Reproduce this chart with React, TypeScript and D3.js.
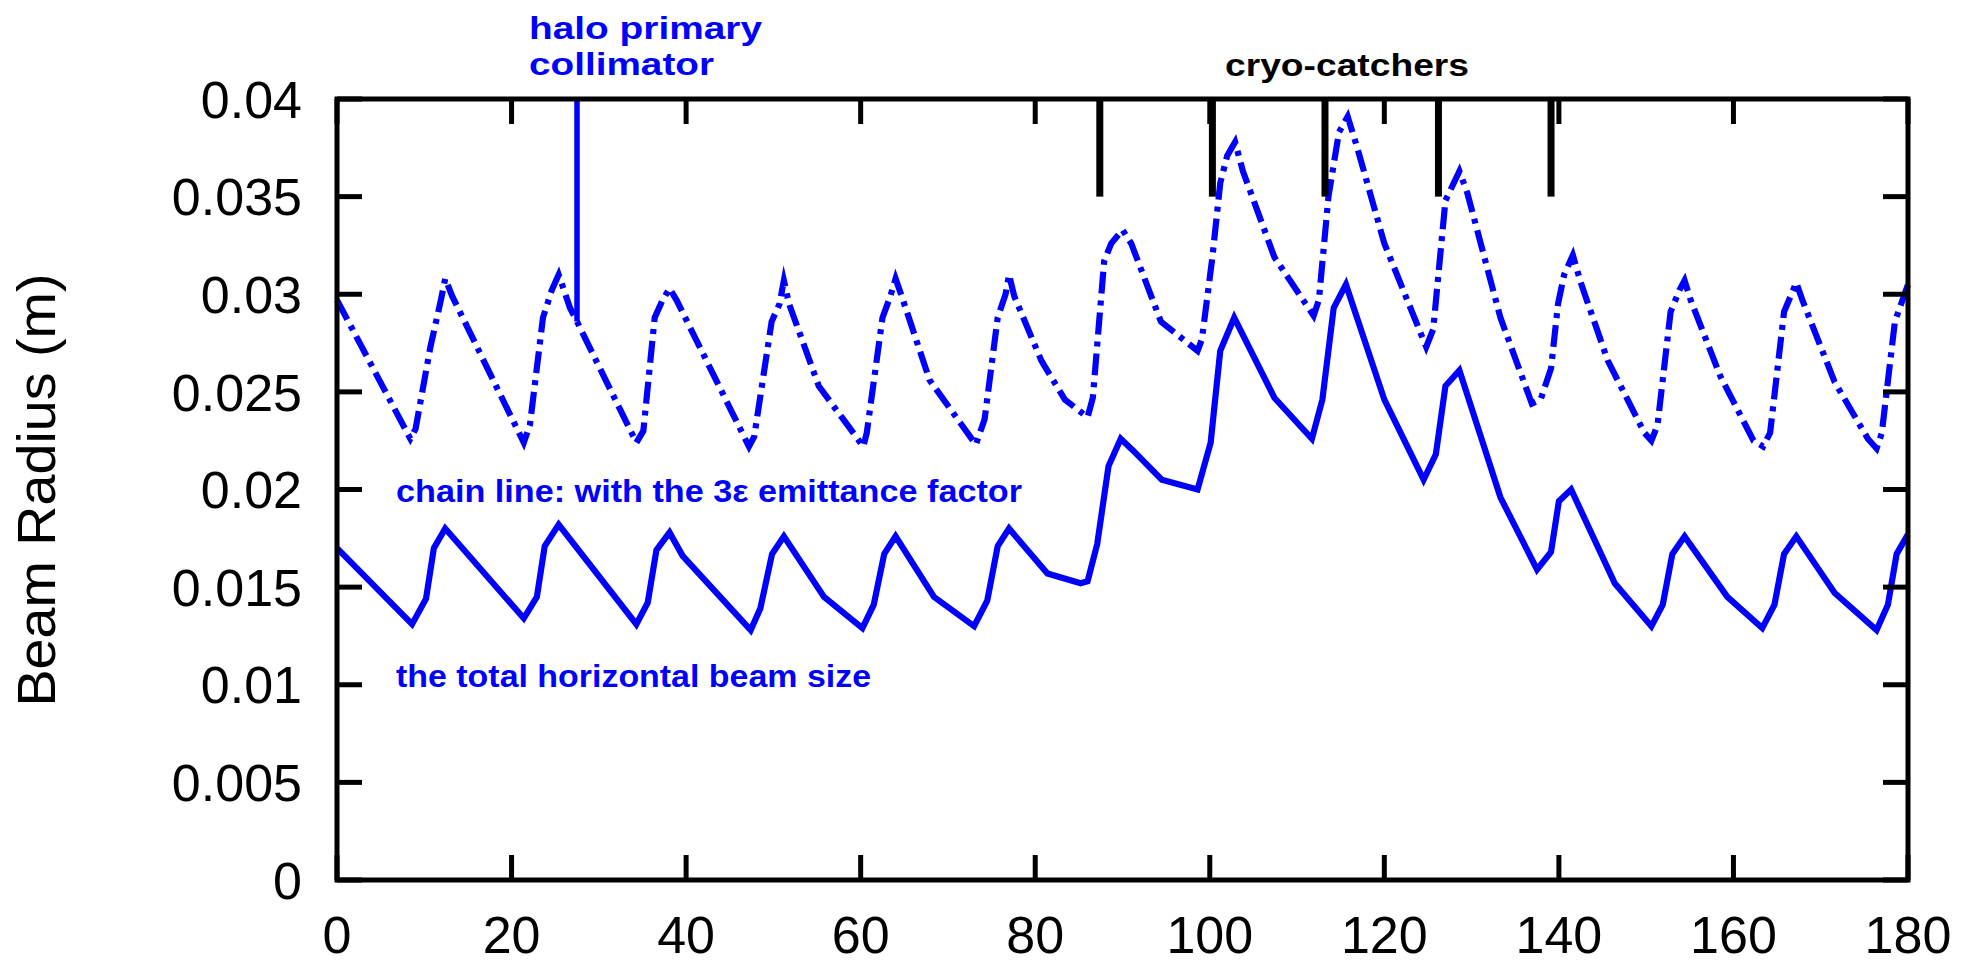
import React from 'react';
import * as d3 from 'd3';

// ---- axis ticks ----
const xTickValues = [0, 20, 40, 60, 80, 100, 120, 140, 160, 180];
const xTickLabels = ['0', '20', '40', '60', '80', '100', '120', '140', '160', '180'];
const yTickValues = [0, 0.005, 0.01, 0.015, 0.02, 0.025, 0.03, 0.035, 0.04];
const yTickLabels = ['0', '0.005', '0.01', '0.015', '0.02', '0.025', '0.03', '0.035', '0.04'];

// ---- total horizontal beam size (solid) : [s, radius] ----
const totalBeamSize: [number, number][] = [
  [0, 0.0170], [8.6, 0.0131], [10.2, 0.0144], [11.1, 0.0170], [12.4, 0.0180],
  [21.4, 0.0134], [22.9, 0.0145], [23.8, 0.0171], [25.4, 0.0182],
  [34.3, 0.0131], [35.6, 0.0142], [36.6, 0.0169], [38.1, 0.0178], [39.6, 0.0166],
  [47.4, 0.0128], [48.5, 0.0139], [49.85, 0.0167], [51.2, 0.0176], [55.8, 0.0145],
  [60.2, 0.0129], [61.5, 0.0141], [62.7, 0.0167], [64.0, 0.0176], [68.4, 0.0145],
  [73.0, 0.0130], [74.5, 0.0143], [75.7, 0.0171], [77.0, 0.0180], [81.4, 0.0157],
  [85.2, 0.0152], [86.0, 0.0153], [87.1, 0.0172], [88.4, 0.0212], [89.8, 0.0226],
  [91.2, 0.0220], [94.5, 0.0205], [98.6, 0.0200],
  [100.1, 0.0224], [101.2, 0.0271], [102.8, 0.0288], [107.4, 0.0247],
  [111.7, 0.0226], [112.9, 0.0246], [114.2, 0.0293], [115.6, 0.0305], [120.0, 0.0246],
  [124.5, 0.0205], [125.9, 0.0218], [127.0, 0.0253], [128.6, 0.0261], [133.3, 0.0196],
  [137.5, 0.0159], [139.1, 0.0168], [140.0, 0.0194], [141.4, 0.0200], [146.4, 0.0152],
  [150.6, 0.0130], [151.9, 0.0141], [153.0, 0.0167], [154.4, 0.0176], [159.3, 0.0145],
  [163.3, 0.0129], [164.7, 0.0141], [165.8, 0.0167], [167.2, 0.0176], [171.6, 0.0147],
  [176.4, 0.0128], [177.7, 0.0141], [178.7, 0.0167], [180.0, 0.0177],
];

// ---- chain line: with the 3ε emittance factor (dash-dot) ----
const chainBeamSize: [number, number][] = [
  [0, 0.0297], [8.4, 0.0226], [9.0, 0.0231], [10.7, 0.0273], [11.9, 0.0297], [12.4, 0.0308], [13.2, 0.0299],
  [21.4, 0.0224], [22.1, 0.0233], [23.6, 0.0288], [24.6, 0.0302], [25.4, 0.0310], [26.7, 0.0293], [27.5, 0.0286],
  [34.3, 0.0224], [35.1, 0.0230], [36.4, 0.0288], [37.3, 0.0297], [38.1, 0.0303], [38.9, 0.0297],
  [47.2, 0.0222], [47.8, 0.0227], [49.8, 0.0286], [50.7, 0.0295], [51.2, 0.0307], [51.8, 0.0295], [55.2, 0.0253],
  [60.3, 0.0222], [60.7, 0.0229], [62.5, 0.0288], [63.4, 0.0299], [64.0, 0.0308], [64.7, 0.0299], [67.9, 0.0256],
  [73.2, 0.0223], [74.2, 0.0236], [75.7, 0.0288], [76.6, 0.0300], [77.0, 0.0310], [77.6, 0.0299], [80.7, 0.0266],
  [83.4, 0.0246], [86.0, 0.0237], [86.6, 0.0247], [87.9, 0.0317], [88.7, 0.0326], [90.0, 0.0333], [91.0, 0.0326],
  [94.4, 0.0286], [98.6, 0.0271], [99.1, 0.0277], [100.3, 0.0319], [101.2, 0.0357], [102.0, 0.0371],
  [102.9, 0.0378], [103.8, 0.0363], [107.4, 0.0319], [111.9, 0.0289], [112.5, 0.0297], [113.6, 0.0350],
  [114.8, 0.0383], [115.8, 0.0391], [116.9, 0.0375], [120.0, 0.0326], [124.8, 0.0273], [125.6, 0.0282],
  [127.0, 0.0348], [128.6, 0.0363], [129.5, 0.0352], [133.3, 0.0288], [136.9, 0.0244], [137.9, 0.0246],
  [139.1, 0.0262], [139.9, 0.0295], [140.6, 0.0310], [141.6, 0.0320], [142.5, 0.0306], [145.6, 0.0266],
  [149.8, 0.0229], [150.6, 0.0225], [151.3, 0.0233], [152.8, 0.0291], [153.8, 0.0302], [154.4, 0.0307],
  [155.1, 0.0297], [158.5, 0.0258], [162.3, 0.0225], [163.4, 0.0222], [164.2, 0.0229], [165.8, 0.0291],
  [167.2, 0.0306], [167.9, 0.0297], [171.6, 0.0255], [175.4, 0.0226], [176.4, 0.0221], [177.0, 0.0229],
  [178.5, 0.0286], [180.0, 0.0305],
];

// ---- markers ----
const cryoCatcherPositions = [87.4, 100.3, 113.2, 126.2, 139.1];
const cryoCatcherRange = [0.035, 0.04];
const collimatorPosition = 27.5;
const collimatorRange = [0.0286, 0.04];

const BLUE = '#0000ff';

export default function App() {
  const W = 1984;
  const H = 965;
  const x = d3.scaleLinear().domain([0, 180]).range([337, 1908]);
  const y = d3.scaleLinear().domain([0, 0.04]).range([880, 99]);
  const line = d3
    .line<[number, number]>()
    .x((d) => x(d[0]))
    .y((d) => y(d[1]));

  const [x0, x1] = x.range();
  const [y0, y1] = y.range();
  const tickLen = 25;
  const tickFont = "'Liberation Sans', Arial, Helvetica, sans-serif";
  const noteFont = "'Liberation Sans', Arial, sans-serif";

  return (
    <div style={{ position: 'fixed', left: 0, top: 0 }}>
      <svg width={W} height={H} viewBox={`0 0 ${W} ${H}`} style={{ display: 'block', background: '#fff' }}>
        <rect x={0} y={0} width={W} height={H} fill="#fff" />

        {/* data lines */}
        <path d={line(totalBeamSize) || ''} fill="none" stroke={BLUE} strokeWidth={6.2} strokeLinejoin="miter" strokeMiterlimit={6} />
        <path
          d={line(chainBeamSize) || ''}
          fill="none"
          stroke={BLUE}
          strokeWidth={6.2}
          strokeDasharray="22 7 5 7"
          strokeLinejoin="miter"
          strokeMiterlimit={6}
        />

        {/* halo primary collimator */}
        <line
          x1={x(collimatorPosition)}
          x2={x(collimatorPosition)}
          y1={y(collimatorRange[0])}
          y2={y(collimatorRange[1])}
          stroke={BLUE}
          strokeWidth={5.5}
        />

        {/* cryo-catchers */}
        {cryoCatcherPositions.map((p, i) => (
          <line key={'c' + i} x1={x(p)} x2={x(p)} y1={y(cryoCatcherRange[0])} y2={y(cryoCatcherRange[1])} stroke="#000" strokeWidth={7} />
        ))}

        {/* ticks */}
        {xTickValues.map((v, i) => (
          <g key={'xt' + i}>
            <line x1={x(v)} x2={x(v)} y1={y0} y2={y0 - tickLen} stroke="#000" strokeWidth={5} />
            <line x1={x(v)} x2={x(v)} y1={y1} y2={y1 + tickLen} stroke="#000" strokeWidth={5} />
            <text x={x(v)} y={953} textAnchor="middle" fontFamily={tickFont} fontSize={52} fill="#000">
              {xTickLabels[i]}
            </text>
          </g>
        ))}
        {yTickValues.map((v, i) => (
          <g key={'yt' + i}>
            <line x1={x0} x2={x0 + tickLen} y1={y(v)} y2={y(v)} stroke="#000" strokeWidth={5} />
            <line x1={x1} x2={x1 - tickLen} y1={y(v)} y2={y(v)} stroke="#000" strokeWidth={5} />
            <text x={302} y={y(v)} dy="0.36em" textAnchor="end" fontFamily={tickFont} fontSize={52} fill="#000">
              {yTickLabels[i]}
            </text>
          </g>
        ))}

        {/* frame */}
        <rect x={x0} y={y1} width={x1 - x0} height={y0 - y1} fill="none" stroke="#000" strokeWidth={5} />

        {/* y axis title */}
        <text
          transform="translate(55,490) rotate(-90)"
          textAnchor="middle"
          fontFamily={tickFont}
          fontSize={54}
          fill="#000"
          textLength={433}
          lengthAdjust="spacingAndGlyphs"
        >
          Beam Radius (m)
        </text>

        {/* annotations */}
        <text x={529} y={39} fontFamily={noteFont} fontWeight={700} fontSize={32} fill={BLUE} textLength={233} lengthAdjust="spacingAndGlyphs">
          halo primary
        </text>
        <text x={529} y={75} fontFamily={noteFont} fontWeight={700} fontSize={32} fill={BLUE} textLength={185} lengthAdjust="spacingAndGlyphs">
          collimator
        </text>
        <text x={1225} y={76} fontFamily={noteFont} fontWeight={700} fontSize={32} fill="#000" textLength={244} lengthAdjust="spacingAndGlyphs">
          cryo-catchers
        </text>
        <text x={396} y={502} fontFamily={noteFont} fontWeight={700} fontSize={32} fill={BLUE} textLength={626} lengthAdjust="spacingAndGlyphs">
          chain line: with the 3ε emittance factor
        </text>
        <text x={396} y={687} fontFamily={noteFont} fontWeight={700} fontSize={32} fill={BLUE} textLength={475} lengthAdjust="spacingAndGlyphs">
          the total horizontal beam size
        </text>
      </svg>
    </div>
  );
}
